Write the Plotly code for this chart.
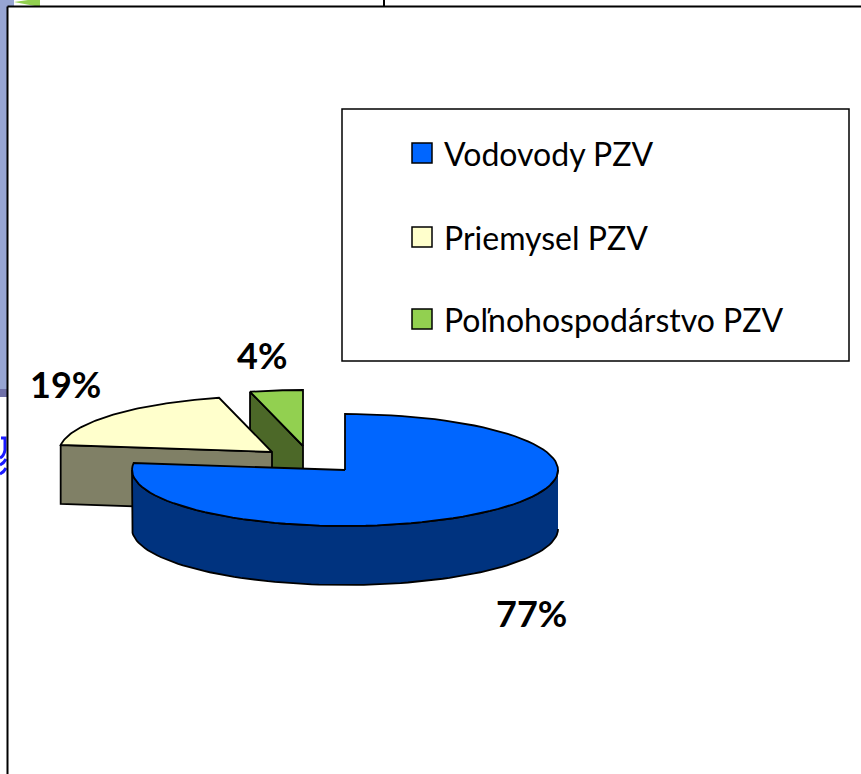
import numpy as np
import plotly.graph_objects as go

# Data
categories = ["Vodovody PZV", "Priemysel PZV", "Poľnohospodárstvo PZV"]
shares = [77, 19, 4]
labels = ["77%", "19%", "4%"]

# Styles
top_colors = ["#0066FF", "#FFFFCC", "#92D050"]
wall_colors = ["#00337F", "#808066", "#4C6828"]
W, H = 861, 774
RX, RY, DEPTH = 213, 56, 59
CENTERS = [(345, 470), (272, 452), (303, 446)]   # exploded slice apexes, px
LABEL_POS = [(531, 613), (65, 384), (262, 355)]
LEGEND_Y = [153, 237, 319]
INK = "#000000"


def rim(c, a0, a1, n=90):
    t = np.radians(np.linspace(a0, a1, n))
    return c[0] + RX * np.sin(t), c[1] - RY * np.cos(t)


fig = go.Figure()


def poly(x, y, fill, name, lw=1.8):
    fig.add_trace(go.Scatter(x=x, y=y, mode="lines", fill="toself", fillcolor=fill,
                             line=dict(color=INK, width=lw), name=name,
                             showlegend=False, hoverinfo="name"))


# Cumulative angles, clockwise from the top
edges = np.cumsum([0] + shares) / sum(shares) * 360
spans = list(zip(edges[:-1], edges[1:]))

# Painter's order: green, yellow, blue
for i in (2, 1, 0):
    c, (a0, a1) = CENTERS[i], spans[i]
    name = categories[i]
    if i == 0:
        ax, ay = rim(c, 90, 270)
        poly(np.r_[ax, ax[::-1]], np.r_[ay, ay[::-1] + DEPTH], wall_colors[i], name)
    else:
        ex, ey = rim(c, a0, a0, 1)
        px = [ex[0], c[0], c[0], ex[0], ex[0]]
        py = [ey[0], c[1], c[1] + DEPTH, ey[0] + DEPTH, ey[0]]
        poly(px, py, wall_colors[i], name)
    ax, ay = rim(c, a0, a1)
    poly(np.r_[c[0], ax, c[0]], np.r_[c[1], ay, c[1]], top_colors[i], name)

# Legend swatches
fig.add_trace(go.Scatter(x=[422] * 3, y=LEGEND_Y, mode="markers", showlegend=False,
                         hoverinfo="skip",
                         marker=dict(symbol="square", size=20, color=top_colors,
                                     line=dict(color=INK, width=1.5))))

annotations = []
for name, y in zip(categories, LEGEND_Y):
    annotations.append(dict(x=442, y=y, text=name, xanchor="left", yanchor="middle", showarrow=False,
                            font=dict(family="Lato", size=32, color="#000000")))
for lab, (x, y) in zip(labels, LABEL_POS):
    annotations.append(dict(x=x, y=y, text=f"<b>{lab}</b>", xanchor="center", yanchor="middle", showarrow=False,
                            font=dict(family="Lato", size=36, color="#000000")))

shapes = [
    # Slide background peeking out behind the chart
    dict(type="rect", x0=0, x1=8, y0=0, y1=391, fillcolor="#97A5D3", line_width=0, layer="below"),
    dict(type="rect", x0=8, x1=14, y0=0, y1=6, fillcolor="#97A5D3", line_width=0, layer="below"),
    dict(type="rect", x0=0, x1=8, y0=389, y1=397, fillcolor="#6F70A8", line_width=0, layer="below"),
    dict(type="path", path="M 14 2 L 28 0 L 40 0 L 40 7 Z", fillcolor="#92D050", line_width=0, layer="below"),
    dict(type="path", path="M 1 438 L 5 438 L 5 450 Q 4 456 0 458", line=dict(color="#1A1AFF", width=3), layer="below"),
    dict(type="path", path="M 0 465 Q 4 463 6 459", line=dict(color="#1A1AFF", width=3), layer="below"),
    dict(type="path", path="M 0 474 Q 4 472 6 468", line=dict(color="#1A1AFF", width=3), layer="below"),
    # Frame
    dict(type="line", x0=7.5, x1=7.5, y0=6.5, y1=774, line=dict(color=INK, width=2)),
    dict(type="line", x0=7.5, x1=861, y0=6.5, y1=6.5, line=dict(color=INK, width=2)),
    dict(type="line", x0=384, x1=384, y0=0, y1=6, line=dict(color=INK, width=2)),
    # Legend box
    dict(type="rect", x0=342, x1=849, y0=109, y1=361, line=dict(color=INK, width=1.5), fillcolor="white", layer="below"),
]

fig.update_layout(
    width=W, height=H, margin=dict(l=0, r=0, t=0, b=0),
    paper_bgcolor="white", plot_bgcolor="white", showlegend=False,
    xaxis=dict(range=[0, W], visible=False, fixedrange=True),
    yaxis=dict(range=[H, 0], visible=False, fixedrange=True),
    shapes=shapes, annotations=annotations,
)
fig.write_html("out.html", config=dict(displayModeBar=False),
               post_script="document.body.style.margin='0';document.body.style.overflow='hidden';")
